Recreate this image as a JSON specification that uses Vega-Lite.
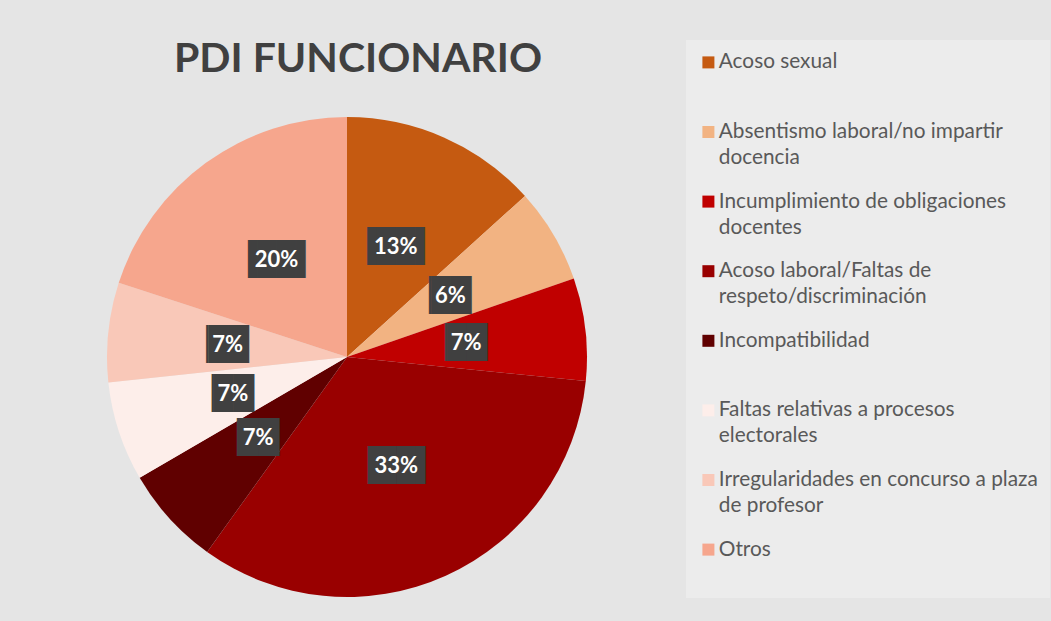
{
  "$schema": "https://vega.github.io/schema/vega-lite/v6.json",
  "width": 694,
  "height": 528,
  "autosize": {"type": "none"},
  "padding": {"left": 0, "top": 93, "right": 357, "bottom": 0},
  "background": "#e5e5e5",
  "title": {
    "text": "PDI FUNCIONARIO",
    "font": "Lato",
    "fontSize": 41,
    "fontWeight": "bold",
    "color": "#404040",
    "anchor": "middle",
    "frame": "group",
    "baseline": "alphabetic",
    "offset": -73,
    "dx": 11
  },
  "data": {
    "values": [
      {"idx": 1, "categoria": "Acoso sexual", "valor": 0.133},
      {"idx": 2, "categoria": "Absentismo laboral/no impartir docencia", "valor": 0.064},
      {"idx": 3, "categoria": "Incumplimiento de obligaciones docentes", "valor": 0.069},
      {"idx": 4, "categoria": "Acoso laboral/Faltas de respeto/discriminación", "valor": 0.333},
      {"idx": 5, "categoria": "Incompatibilidad", "valor": 0.067},
      {"idx": 6, "categoria": "Faltas relativas a procesos electorales", "valor": 0.067},
      {"idx": 7, "categoria": "Irregularidades en concurso a plaza de profesor", "valor": 0.067},
      {"idx": 8, "categoria": "Otros", "valor": 0.2}
    ]
  },
  "encoding": {
    "theta": {"field": "valor", "type": "quantitative", "stack": true},
    "order": {"field": "idx", "type": "quantitative"}
  },
  "layer": [
    {
      "mark": {"type": "arc", "outerRadius": 240, "strokeWidth": 0},
      "encoding": {
        "color": {
          "field": "categoria",
          "type": "nominal",
          "scale": {
            "domain": [
              "Acoso sexual",
              "Absentismo laboral/no impartir docencia",
              "Incumplimiento de obligaciones docentes",
              "Acoso laboral/Faltas de respeto/discriminación",
              "Incompatibilidad",
              "Faltas relativas a procesos electorales",
              "Irregularidades en concurso a plaza de profesor",
              "Otros"
            ],
            "range": ["#c55a11", "#f2b382", "#c00000", "#990000", "#600000", "#fdeeea", "#f9c8b8", "#f6a68d"]
          },
          "legend": {
            "orient": "none",
            "legendX": 686,
            "legendY": -53,
            "title": null,
            "fillColor": "#ececec",
            "padding": 12,
            "symbolType": "square",
            "symbolSize": 144,
            "symbolStrokeWidth": 0,
            "labelFont": "Lato",
            "labelFontSize": 20.8,
            "labelColor": "#595959",
            "labelLimit": 400,
            "labelOffset": 0,
            "labelBaseline": "top",
            "gridAlign": "all",
            "rowPadding": 21.6,
            "labelExpr": "({'Absentismo laboral/no impartir docencia': ['Absentismo laboral/no impartir', 'docencia'], 'Incumplimiento de obligaciones docentes': ['Incumplimiento de obligaciones', 'docentes'], 'Acoso laboral/Faltas de respeto/discriminación': ['Acoso laboral/Faltas de', 'respeto/discriminación'], 'Faltas relativas a procesos electorales': ['Faltas relativas a procesos', 'electorales'], 'Irregularidades en concurso a plaza de profesor': ['Irregularidades en concurso a plaza', 'de profesor'], 'Otros': ['Otros', ' ']})[datum.label] || datum.label",
            "encode": {"labels": {"update": {"lineHeight": {"value": 26}, "dy": {"value": -10}}}}
          }
        }
      }
    },
    {
      "mark": {"type": "text", "radius": 120, "font": "DejaVu Sans Mono", "fontSize": 32, "color": "#404040", "baseline": "middle", "align": "center"},
      "encoding": {
        "text": {"condition": {"test": "datum.valor >= 0.1", "value": "▐██▌"}, "value": "▕██▏"}
      }
    },
    {
      "mark": {"type": "text", "radius": 120, "font": "Lato", "fontSize": 22, "fontWeight": "bold", "color": "#ffffff", "baseline": "middle", "align": "center"},
      "encoding": {
        "text": {"field": "valor", "type": "quantitative", "format": ".0%"}
      }
    }
  ]
}
